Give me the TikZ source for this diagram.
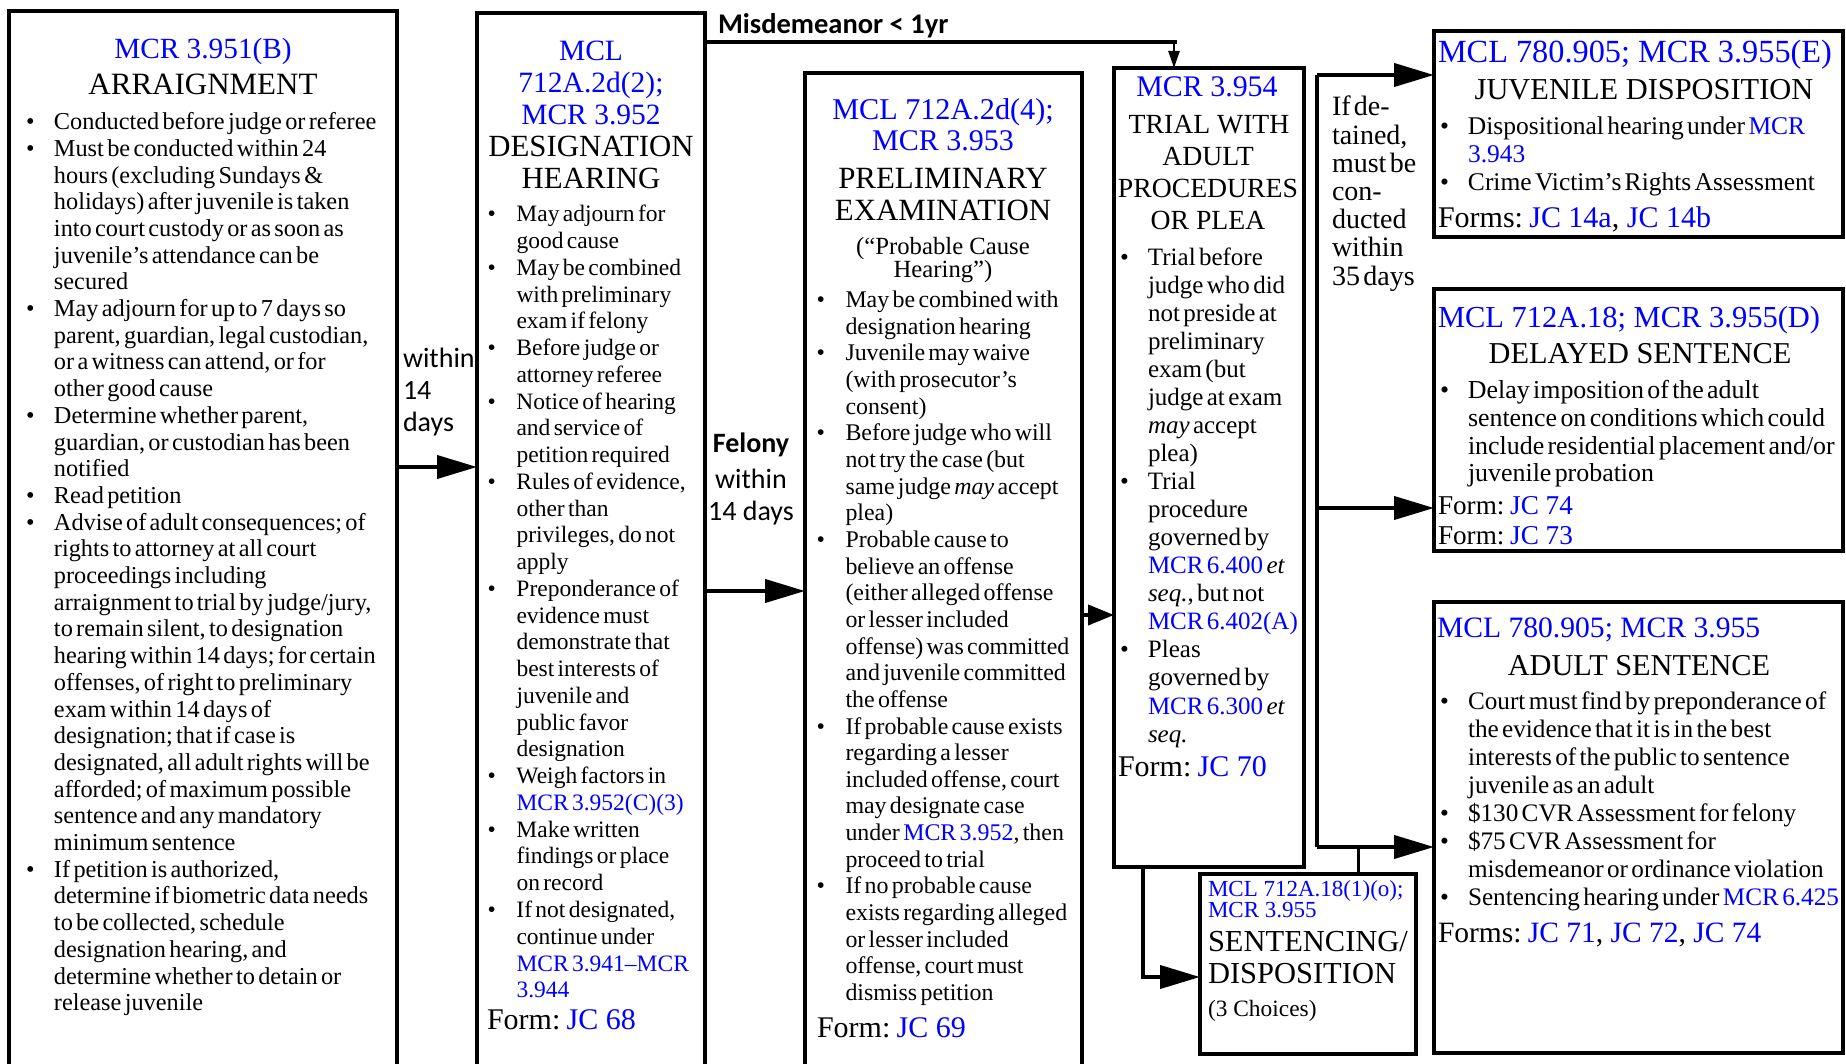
\documentclass[tikz,border=0pt]{standalone}
\usepackage{fontspec}
\setmainfont{Liberation Serif}
\newfontfamily\sansc{Carlito}
\usetikzlibrary{arrows.meta}
\definecolor{refblue}{RGB}{0,0,255}
\newlength\bw
\newcommand\bul{\par\noindent\hspace*{-\bw}\makebox[\bw][l]{\textbullet}}
\newcommand\nxl{\par}
\newcommand\rf[1]{\textcolor{refblue}{#1}}
\newcommand\fsp{\hspace{0.21em}}
\newcommand\setfs[2]{\fontsize{#1}{#2}\selectfont}
\newcommand\lstart[3]{\setfs{#1}{#2}\parindent=0pt\parskip=0pt\lineskiplimit=-50pt\setlength\bw{#3}\leftskip=\bw}
\newcommand\fst{\rule{0pt}{22pt}}
\tikzset{
  box/.style={draw, line width=4pt, rectangle, anchor=north west, inner sep=0pt, outer sep=0pt},
  lst/.style={anchor=north west, inner sep=0pt, outer sep=0pt, align=left, text width=#1},
  ttl/.style={anchor=base, inner sep=0pt, outer sep=0pt},
  lbl/.style={anchor=base west, inner sep=0pt, outer sep=0pt},
  conn/.style={line width=4pt, -{Triangle[length=40pt,width=23pt]}},
}
\begin{document}
\begin{tikzpicture}[x=1pt,y=-1pt]
\useasboundingbox (0,0) rectangle (1846,1064);
\fill[white] (0,0) rectangle (1846,1064);
\clip (0,0) rectangle (1846,1064);
% ---------- boxes
\node[box, minimum width=388pt, minimum height=1100pt] (b1) at (9,11) {};
\node[box, minimum width=228pt, minimum height=1100pt] (b2) at (477,13) {};
\node[box, minimum width=277pt, minimum height=1100pt] (b3) at (805,73) {};
\node[box, minimum width=190pt, minimum height=799pt] (b4) at (1114,68) {};
\node[box, minimum width=409pt, minimum height=206pt] (b5) at (1434,31) {};
\node[box, minimum width=409pt, minimum height=262pt] (b6) at (1434,289) {};
\node[box, minimum width=409pt, minimum height=451pt] (b7) at (1434,602) {};
\node[box, minimum width=216pt, minimum height=180pt] (b8) at (1200,874) {};
% ---------- box 1
\node[ttl, font={\setfs{29.3}{32}}, text=refblue] (t1a) at (203,58.5) {MCR 3.951(B)};
\node[ttl, font={\setfs{31}{33}}] (t1b) at (203,95) {ARRAIGNMENT};
\node[lst=440pt] (l1) at (26,103) {\lstart{24.3}{26.7}{28pt}%
\bul\fst Conducted before judge or referee
\bul Must be conducted within 24\nxl hours (excluding Sundays \&\nxl holidays) after juvenile is taken\nxl into court custody or as soon as\nxl juvenile’s attendance can be\nxl secured
\bul May adjourn for up to 7 days so\nxl parent, guardian, legal custodian,\nxl or a witness can attend, or for\nxl other good cause
\bul Determine whether parent,\nxl guardian, or custodian has been\nxl notified
\bul Read petition
\bul Advise of adult consequences; of\nxl rights to attorney at all court\nxl proceedings including\nxl arraignment to trial by judge/jury,\nxl to remain silent, to designation\nxl hearing within 14 days; for certain\nxl offenses, of right to preliminary\nxl exam within 14 days of\nxl designation; that if case is\nxl designated, all adult rights will be\nxl afforded; of maximum possible\nxl sentence and any mandatory\nxl minimum sentence
\bul If petition is authorized,\nxl determine if biometric data needs\nxl to be collected, schedule\nxl designation hearing, and\nxl determine whether to detain or\nxl release juvenile\par};
% ---------- box 2
\node[ttl, font={\setfs{29.5}{32}}, text=refblue] (t2a) at (591,61) {MCL};
\node[ttl, font={\setfs{29.5}{32}}, text=refblue] (t2b) at (591,93) {712A.2d(2);};
\node[ttl, font={\setfs{29.5}{32}}, text=refblue] (t2c) at (591,125) {MCR 3.952};
\node[ttl, font={\setfs{30.8}{32}}] (t2d) at (591,157) {DESIGNATION};
\node[ttl, font={\setfs{30.8}{32}}] (t2e) at (591,189) {HEARING};
\node[lst=300pt] (l2) at (487.5,195) {\lstart{23.5}{26.76}{29pt}%
\bul\fst May adjourn for\nxl good cause
\bul May be combined\nxl with preliminary\nxl exam if felony
\bul Before judge or\nxl attorney referee
\bul Notice of hearing\nxl and service of\nxl petition required
\bul Rules of evidence,\nxl other than\nxl privileges, do not\nxl apply
\bul Preponderance of\nxl evidence must\nxl demonstrate that\nxl best interests of\nxl juvenile and\nxl public favor\nxl designation
\bul Weigh factors in\nxl \rf{MCR 3.952(C)(3)}
\bul Make written\nxl findings or place\nxl on record
\bul If not designated,\nxl continue under\nxl \rf{MCR 3.941–MCR}\nxl \rf{3.944}\par};
\node[lbl, font={\setfs{30}{33}}] (fm2) at (487,1029) {Form:\fsp\rf{JC 68}};
% ---------- box 3
\node[ttl, font={\setfs{30.2}{31}}, text=refblue] (t3a) at (943,120) {MCL 712A.2d(4);};
\node[ttl, font={\setfs{30}{31}}, text=refblue] (t3b) at (943,151) {MCR 3.953};
\node[ttl, font={\setfs{30.9}{33}}] (t3c) at (943,189) {PRELIMINARY};
\node[ttl, font={\setfs{30.9}{33}}] (t3d) at (943,221) {EXAMINATION};
\node[ttl, font={\setfs{24.7}{26}}] (t3e) at (943,255) {(“Probable Cause};
\node[ttl, font={\setfs{24.7}{26}}] (t3f) at (943,278) {Hearing”)};
\node[lst=350pt] (l3) at (816.5,281) {\lstart{23.9}{26.65}{29pt}%
\bul\fst May be combined with\nxl designation hearing
\bul Juvenile may waive\nxl (with prosecutor’s\nxl consent)
\bul Before judge who will\nxl not try the case (but\nxl same judge \textit{may} accept\nxl plea)
\bul Probable cause to\nxl believe an offense\nxl (either alleged offense\nxl or lesser included\nxl offense) was committed\nxl and juvenile committed\nxl the offense
\bul If probable cause exists\nxl regarding a lesser\nxl included offense, court\nxl may designate case\nxl under \rf{MCR 3.952}, then\nxl proceed to trial
\bul If no probable cause\nxl exists regarding alleged\nxl or lesser included\nxl offense, court must\nxl dismiss petition\par};
\node[lbl, font={\setfs{30}{33}}] (fm3) at (817,1037) {Form:\fsp\rf{JC 69}};
% ---------- box 4
\node[ttl, font={\setfs{29.9}{32}}, text=refblue] (t4a) at (1207,97) {MCR 3.954};
\node[ttl, font={\setfs{27.7}{30}}] (t4b) at (1209,134) {TRIAL WITH};
\node[ttl, font={\setfs{27.7}{30}}] (t4c) at (1208,166) {ADULT};
\node[ttl, font={\setfs{27.7}{30}}] (t4d) at (1208,197.5) {PROCEDURES};
\node[ttl, font={\setfs{27.7}{30}}] (t4e) at (1208,229.6) {OR PLEA};
\node[lst=250pt] (l4) at (1120,237) {\lstart{25}{28.06}{28pt}%
\bul\fst Trial before\nxl judge who did\nxl not preside at\nxl preliminary\nxl exam (but\nxl judge at exam\nxl \textit{may} accept\nxl plea)
\bul Trial\nxl procedure\nxl governed by\nxl \rf{MCR 6.400} \textit{et}\nxl \textit{seq.}, but not\nxl \rf{MCR 6.402(A)}
\bul Pleas\nxl governed by\nxl \rf{MCR 6.300} \textit{et}\nxl \textit{seq.}\par};
\node[lbl, font={\setfs{30}{33}}] (fm4) at (1118,776) {Form:\fsp\rf{JC 70}};
% ---------- box 5
\node[lbl, font={\setfs{32.3}{34}}, text=refblue] (t5a) at (1438,63) {MCL 780.905; MCR 3.955(E)};
\node[ttl, font={\setfs{30.4}{32}}] (t5b) at (1644,100) {JUVENILE DISPOSITION};
\node[lst=480pt] (l5) at (1440,107) {\lstart{25.5}{28}{28pt}%
\bul\fst Dispositional hearing under \rf{MCR}\nxl \rf{3.943}
\bul Crime Victim’s Rights Assessment\par};
\node[lbl, font={\setfs{30}{33}}] (fm5) at (1438,228) {Forms:\fsp\rf{JC 14a}, \rf{JC 14b}};
% ---------- box 6
\node[lbl, font={\setfs{30.5}{32}}, text=refblue] (t6a) at (1438,327) {MCL 712A.18; MCR 3.955(D)};
\node[ttl, font={\setfs{30.3}{32}}] (t6b) at (1640,363) {DELAYED SENTENCE};
\node[lst=480pt] (l6) at (1440,371) {\lstart{25.9}{27.7}{28pt}%
\bul\fst Delay imposition of the adult\nxl sentence on conditions which could\nxl include residential placement and/or\nxl juvenile probation\par};
\node[lbl, font={\setfs{27.2}{30}}] (fm6a) at (1438,514) {Form:\fsp\rf{JC 74}};
\node[lbl, font={\setfs{27.2}{30}}] (fm6b) at (1438,544) {Form:\fsp\rf{JC 73}};
% ---------- box 7
\node[lbl, font={\setfs{29.6}{32}}, text=refblue] (t7a) at (1437,637) {MCL 780.905; MCR 3.955};
\node[ttl, font={\setfs{30.3}{33}}] (t7b) at (1639,675) {ADULT SENTENCE};
\node[lst=480pt] (l7) at (1440,682) {\lstart{25.2}{27.9}{28pt}%
\bul\fst Court must find by preponderance of\nxl the evidence that it is in the best\nxl interests of the public to sentence\nxl juvenile as an adult
\bul \$130 CVR Assessment for felony
\bul \$75 CVR Assessment for\nxl misdemeanor or ordinance violation
\bul Sentencing hearing under \rf{MCR 6.425}\par};
\node[lbl, font={\setfs{29.5}{32}}] (fm7) at (1438,942) {Forms:\fsp\rf{JC 71}, \rf{JC 72}, \rf{JC 74}};
% ---------- box 8
\node[lbl, font={\setfs{23}{25}}, text=refblue] (t8a) at (1208,896) {MCL 712A.18(1)(o);};
\node[lbl, font={\setfs{23}{25}}, text=refblue] (t8b) at (1208,917) {MCR 3.955};
\node[lbl, font={\setfs{30.5}{33}}] (t8c) at (1208,951) {SENTENCING/};
\node[lbl, font={\setfs{30.5}{33}}] (t8d) at (1208,983) {DISPOSITION};
\node[lbl, font={\setfs{23.4}{26}}] (t8e) at (1208,1016) {(3 Choices)};
% ---------- free labels
\node[lbl, font={\sansc\bfseries\setfs{28.5}{30}}] (lmis) at (718,34) {Misdemeanor < 1yr};
\node[lbl, font={\sansc\setfs{28}{30}}] (w1) at (403,367) {within};
\node[lbl, font={\sansc\setfs{28}{30}}] (w2) at (403,399) {14};
\node[lbl, font={\sansc\setfs{28}{30}}] (w3) at (403,431) {days};
\node[ttl, font={\sansc\bfseries\setfs{28}{30}}] (f1) at (751,452) {Felony};
\node[ttl, font={\sansc\setfs{28}{30}}] (f2) at (751,488) {within};
\node[ttl, font={\sansc\setfs{28}{30}}] (f3) at (751,520) {14 days};
\node[lst=120pt] (det) at (1332,94) {\setfs{28}{28.2}\parindent=0pt\lineskiplimit=-50pt%
\fst If de-\nxl tained,\nxl must be\nxl con-\nxl ducted\nxl within\nxl 35 days\par};
% ---------- connectors
\coordinate (a12) at (0,467);
\coordinate (a23) at (0,591);
\coordinate (a34) at (0,615);
\coordinate (mis) at (1174,42);
\coordinate (dtop) at (1317,75);
\coordinate (dmid) at (1317,508);
\coordinate (dbot) at (1317,847);
\coordinate (dj) at (1358,847);
\coordinate (tsx) at (1143,977);
\draw[conn] (b1.east |- a12) -- (b2.west |- a12);
\draw[conn] (b2.east |- a23) -- (b3.west |- a23);
\draw[line width=4pt, -{Triangle[length=26pt,width=20pt]}] (b3.east |- a34) -- (b4.west |- a34);
\draw[line width=4pt] (b2.east |- mis) -- ([xshift=3pt]mis);
\draw[line width=2.5pt, -{Triangle[length=17pt,width=11pt]}] (mis) -- (b4.north -| mis);
\draw[line width=4pt] (dtop) -- (dbot);
\draw[conn] (dtop) -- (b5.west |- dtop);
\draw[conn] (dmid) -- (b6.west |- dmid);
\draw[conn] (dbot) -- (b7.west |- dbot);
\draw[line width=3pt] (dj) -- (b8.north -| dj);
\draw[conn] (b4.south -| tsx) |- (b8.west |- tsx);
\end{tikzpicture}
\end{document}
